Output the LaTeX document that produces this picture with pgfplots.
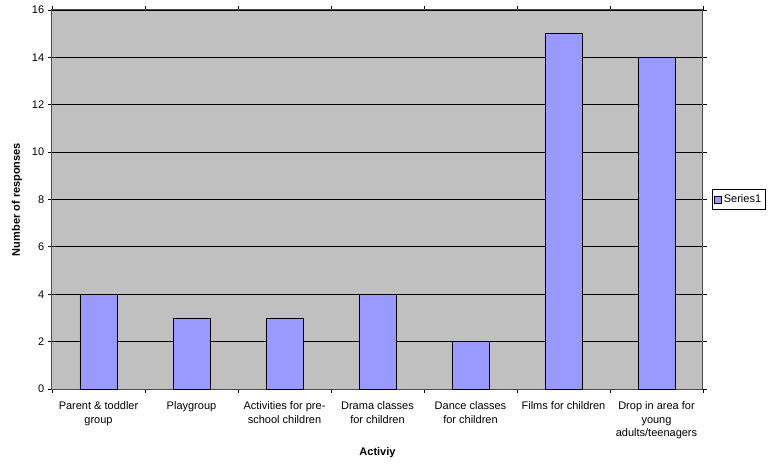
\documentclass[border=0pt]{standalone}
\usepackage{fontspec}
\setmainfont{Liberation Sans}
\usepackage{pgfplots}
\pgfplotsset{compat=1.18}
\definecolor{barfill}{HTML}{9999FF}
\definecolor{plotbg}{HTML}{C0C0C0}
\begin{document}
\fontsize{11}{13.3}\selectfont
\begin{tikzpicture}
\path[use as bounding box] (-52pt,-77pt) rectangle (717pt,389pt);
\begin{axis}[
  at={(0,0)}, anchor=south west,
  scale only axis, width=651pt, height=379pt,
  xmin=0.5, xmax=7.5, ymin=0, ymax=16,
  ytick={0,2,...,16},
  ymajorgrids, grid style={black, line width=0.8pt},
  axis background/.style={fill=plotbg},
  axis line style={draw=gray!60!black, line width=1pt},
  tick align=outside, major tick length=4pt,
  tick style={black, line width=0.8pt},
  xtick={0.5,1.5,...,7.5}, xticklabels={,,,,,,,,},
  extra x ticks={1,2,3,4,5,6,7},
  extra x tick labels={Parent \& toddler\\group, Playgroup, Activities for pre-\\school children, Drama classes\\for children, Dance classes\\for children, Films for children, Drop in area for\\young\\adults/teenagers},
  extra x tick style={major tick length=0pt, grid=none, tick label style={align=center, anchor=north, yshift=-9pt, font=\fontsize{11}{13.3}\selectfont}},
  /pgf/number format/assume math mode=true,
  tick label style={font=\fontsize{11}{13.3}\selectfont},
  xlabel={\textbf{Activiy}},
  ylabel={\textbf{Number of responses}},
  every axis x label/.style={at={(axis description cs:0.5,-0.1689)}, anchor=center, font=\fontsize{11}{13.3}\selectfont},
  every axis y label/.style={at={(axis description cs:-0.0538,0.5)}, rotate=90, anchor=center, font=\fontsize{11}{13.3}\selectfont},
  legend style={at={(1.0138,0.5)}, anchor=west, draw=black, line width=0.6pt, inner xsep=2pt, inner ysep=3pt, font=\fontsize{11}{13.3}\selectfont, legend cell align=left},
]
\addplot[ybar, bar width=37pt, fill=barfill, draw=black, line width=0.8pt,
  legend image code/.code={\draw[fill=barfill, draw=black, line width=0.6pt] (0pt,-3.5pt) rectangle (7pt,3.5pt);}]
  coordinates {(1,4) (2,3) (3,3) (4,4) (5,2) (6,15) (7,14)};
\addlegendentry{Series1}
\end{axis}
\end{tikzpicture}
\end{document}
